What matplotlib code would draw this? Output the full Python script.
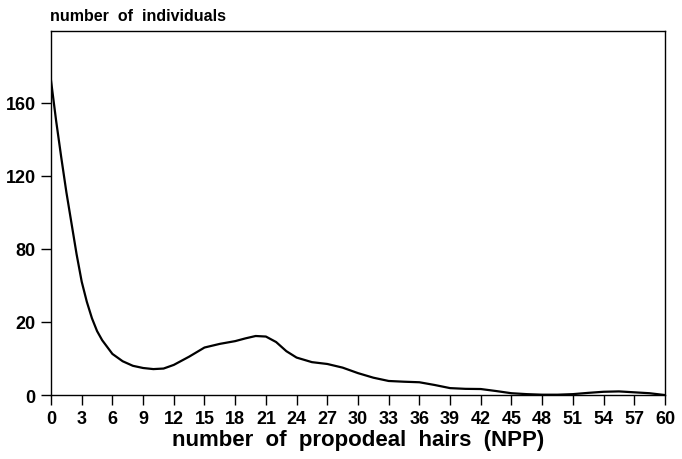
import matplotlib.pyplot as plt

# NPP values (x) and number of individuals in the axis units of the figure
npp = [0, 0.5, 1, 1.5, 2, 2.5, 3, 3.5, 4, 4.5, 5, 6, 7, 8, 9, 10, 11, 12, 13.5,
       15, 16.5, 18, 19, 20, 21, 22, 23, 24, 25.5, 27, 28.5, 30, 31.5, 33,
       34.5, 36, 37.5, 39, 40.5, 42, 43.5, 45, 46.5, 48, 49.5, 51, 52.5, 54,
       55.5, 57, 58.5, 60]
individuals = [172, 150, 130, 111, 94, 77, 62, 51, 42, 35, 30, 22.5, 18.5, 16,
               14.8, 14.2, 14.5, 16.5, 21, 26, 28, 29.5, 31, 32.3, 32, 29, 24,
               20.5, 18, 17, 15, 12, 9.5, 7.7, 7.3, 7, 5.5, 3.8, 3.4, 3.3, 2.2,
               1, 0.5, 0.2, 0.2, 0.5, 1.2, 1.8, 2, 1.5, 1, 0]
x_ticks = list(range(0, 61, 3))
y_ticks = [0, 40, 80, 120, 160]
y_tick_labels = ['0', '20', '80', '120', '160']

plt.rcParams['font.family'] = ['Liberation Sans', 'DejaVu Sans']

fig = plt.figure(figsize=(6.82, 4.6), dpi=100)
ax = fig.add_axes([0.0748, 0.139, 0.9002, 0.791])

ax.plot(npp, individuals, color='black', linewidth=1.6)

ax.set_xlim(0, 60)
ax.set_ylim(0, 199)
ax.set_xticks(x_ticks)
ax.set_yticks(y_ticks)
ax.set_yticklabels(y_tick_labels)
ax.tick_params(direction='out', length=7, width=1, labelsize=13, pad=4)
for lab in ax.get_xticklabels() + ax.get_yticklabels():
    lab.set_fontweight('bold')
for s in ax.spines.values():
    s.set_linewidth(1)

ax.set_xlabel('number  of  propodeal  hairs  (NPP)', fontsize=16,
              fontweight='bold', labelpad=1)
fig.text(0.073, 0.965, 'number  of  individuals', fontsize=11.5,
         fontweight='bold', ha='left', va='center')

fig.savefig('out.png', dpi=100)
